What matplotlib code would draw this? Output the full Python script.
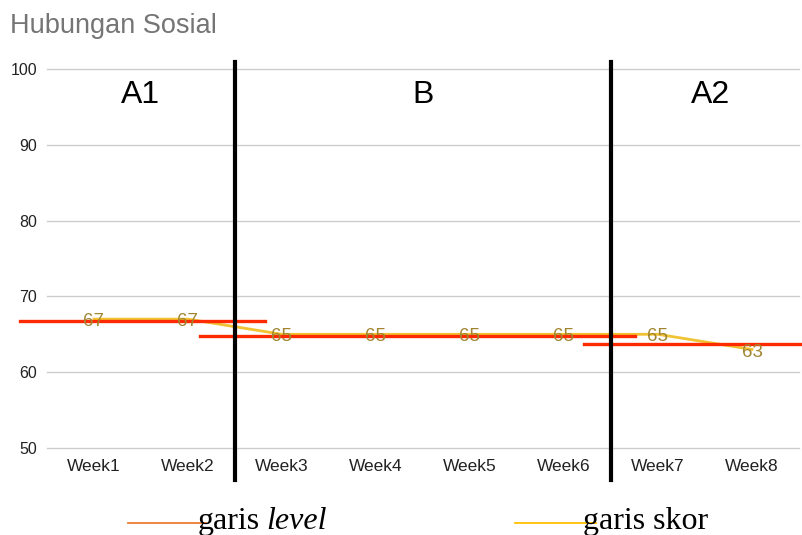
import matplotlib.pyplot as plt
import numpy as np

weeks = ['Week1', 'Week2', 'Week3', 'Week4', 'Week5', 'Week6', 'Week7', 'Week8']
skor = [67, 67, 65, 65, 65, 65, 65, 63]

# garis level per fase: (nilai, mulai, akhir) dalam indeks minggu
fase = ['A1', 'B', 'A2']
level = [66.8, 64.8, 63.7]
level_start = [-0.79, 1.13, 5.21]
level_end = [1.82, 5.76, 7.6]
batas = [1.5, 5.5]

fig = plt.figure(figsize=(8.02, 5.35), dpi=100)
ax = fig.add_axes([47 / 802, 87 / 535, 752 / 802, 379 / 535])

x = np.arange(len(weeks))
ax.set_xlim(-0.5, len(weeks) - 0.5)
ax.set_ylim(50, 100)
ax.set_yticks([50, 60, 70, 80, 90, 100])
ax.grid(axis='y', color='#cccccc', lw=1)
for gl in ax.get_ygridlines():
    gl.set_clip_on(False)
ax.set_axisbelow(True)
for s in ax.spines.values():
    s.set_visible(False)
ax.tick_params(length=0)
ax.tick_params(axis='y', pad=7, labelsize=11.5, labelcolor='#222222')
ax.tick_params(axis='x', pad=8, labelsize=12.5, labelcolor='#222222')
ax.set_xticks(x)
ax.set_xticklabels(weeks)
for t in ax.get_xticklabels() + ax.get_yticklabels():
    t.set_family('Liberation Sans')

# garis skor
ax.plot(x, skor, color='#f1c232', lw=2, zorder=3)

# garis level (merah)
for v, a, b in zip(level, level_start, level_end):
    ax.plot([a, b], [v, v], color='#ff2a00', lw=2.4, zorder=4, clip_on=False)

# label data
for xi, yi in zip(x, skor):
    ax.text(xi, yi - 0.35, str(yi), ha='center', va='center', fontsize=13.5,
            color='#a08530', family='Liberation Sans', zorder=5)

# batas fase
for b in batas:
    ax.plot([b, b], [45.8, 100.9], color='black', lw=3, zorder=6, clip_on=False)

fase_x = [0.49, 3.5, 6.56]
for name, fx in zip(fase, fase_x):
    ax.text(fx, 96.6, name, ha='center', va='center', fontsize=23,
            family='Liberation Sans', color='black')

fig.text(10 / 802, 1 - 26 / 535, 'Hubungan Sosial', fontsize=19.5, color='#757575',
         family='Liberation Sans', va='center', ha='left')

# legenda bawah
fig.add_artist(plt.Line2D([128 / 802, 206 / 802], [12 / 535, 12 / 535],
                          color='#ed7d31', lw=1.3))
fig.add_artist(plt.Line2D([515 / 802, 596 / 802], [12 / 535, 12 / 535],
                          color='#ffc000', lw=1.3))
fig.text(198 / 802, 6 / 535, 'garis', fontsize=23, family='Liberation Serif',
         ha='left', va='baseline')
fig.text(266 / 802, 6 / 535, 'level', fontsize=23, family='Liberation Serif',
         style='italic', ha='left', va='baseline')
fig.text(583 / 802, 6 / 535, 'garis skor', fontsize=23, family='Liberation Serif',
         ha='left', va='baseline')

fig.savefig('out.png', dpi=100)
